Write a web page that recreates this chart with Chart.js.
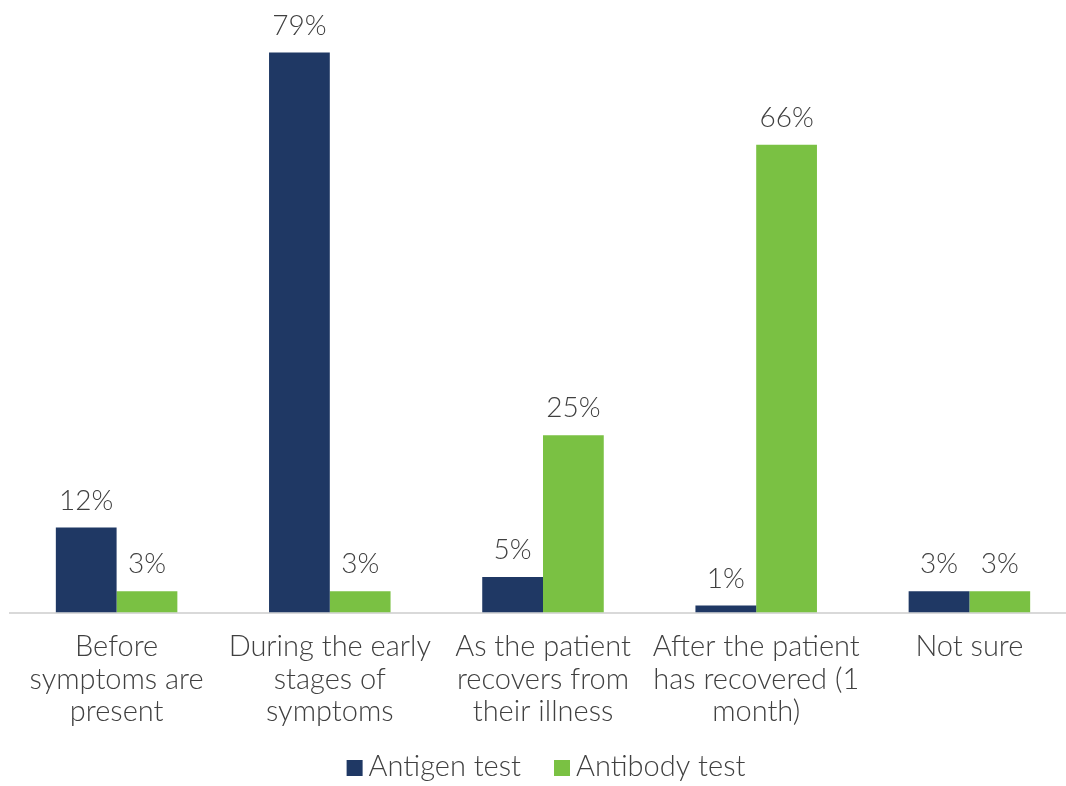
<!DOCTYPE html>
<html><head><meta charset="utf-8">
<script src="https://cdn.jsdelivr.net/npm/chart.js@4"></script>
<style>html,body{margin:0;padding:0;overflow:hidden;background:#fff}#wrap{width:1077px;height:786px}</style>
</head><body><div id="wrap"><canvas id="c" width="1077" height="786"></canvas></div>
<script>
const categories = [
  ["Before","symptoms are","present"],
  ["During the early","stages of","symptoms"],
  ["As the patient","recovers from","their illness"],
  ["After the patient","has recovered (1","month)"],
  ["Not sure"]
];
const seriesNames = ["Antigen test","Antibody test"];
const antigen = [12, 79, 5, 1, 3];
const antibody = [3, 3, 25, 66, 3];
const colors = ["#1F3864", "#7AC143"];
const FONT = "Lato";
const TXT = "#404040";

const valueLabels = {
  id: 'valueLabels',
  afterDatasetsDraw(chart) {
    const ctx = chart.ctx;
    ctx.save();
    ctx.font = "300 28px " + FONT;
    ctx.fillStyle = TXT;
    ctx.textAlign = 'center';
    ctx.textBaseline = 'bottom';
    chart.data.datasets.forEach((ds, i) => {
      chart.getDatasetMeta(i).data.forEach((bar, j) => {
        ctx.fillText(ds.data[j] + '%', bar.x, bar.y - 13);
      });
    });
    ctx.restore();
  }
};

const customLegend = {
  id: 'customLegend',
  afterDraw(chart) {
    const ctx = chart.ctx;
    const ca = chart.chartArea;
    ctx.save();
    ctx.font = "300 29px " + FONT;
    ctx.textBaseline = 'middle';
    ctx.textAlign = 'left';
    const box = 16, gap = 6, spacing = 33;
    const items = chart.data.datasets.map(d => ({t: d.label, c: d.backgroundColor, w: ctx.measureText(d.label).width}));
    let total = 0;
    items.forEach((it, i) => { total += box + gap + it.w + (i < items.length - 1 ? spacing : 0); });
    let x = (ca.left + ca.right) / 2 - total / 2 + 3;
    const y = 767;
    items.forEach(it => {
      ctx.fillStyle = it.c;
      ctx.fillRect(x, y - 7, box, box);
      x += box + gap;
      ctx.fillStyle = TXT;
      ctx.fillText(it.t, x, y);
      x += it.w + spacing;
    });
    ctx.restore();
  }
};

new Chart(document.getElementById('c'), {
  type: 'bar',
  data: {
    labels: categories,
    datasets: [
      {label: seriesNames[0], data: antigen, backgroundColor: colors[0]},
      {label: seriesNames[1], data: antibody, backgroundColor: colors[1]}
    ]
  },
  options: {
    responsive: false,
    animation: false,
    devicePixelRatio: 1,
    layout: {padding: {left: 10, right: 1, top: 10, bottom: 48}},
    datasets: {bar: {categoryPercentage: 0.57, barPercentage: 1.0}},
    scales: {
      x: {
        grid: {display: false},
        border: {display: true, color: '#D9D9D9', width: 2},
        ticks: {color: TXT, font: {family: FONT, size: 29, weight: 300, lineHeight: 1.12}, padding: 10, maxRotation: 0, autoSkip: false}
      },
      y: {display: false, min: 0, max: 85}
    },
    plugins: {
      legend: {display: false},
      tooltip: {enabled: false}
    }
  },
  plugins: [valueLabels, customLegend]
});
</script></body></html>
